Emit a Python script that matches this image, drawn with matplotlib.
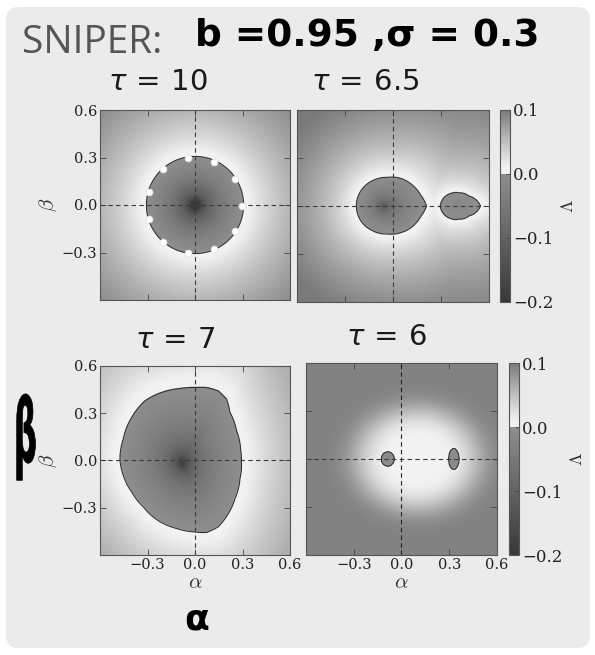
import numpy as np
import matplotlib
matplotlib.use("Agg")
import matplotlib.pyplot as plt
from matplotlib.colors import ListedColormap
from matplotlib.patches import FancyBboxPatch, PathPatch
from matplotlib.textpath import TextPath
from matplotlib.font_manager import FontProperties
from matplotlib.transforms import Affine2D

# ---------------- data ----------------
panel_taus = ["10", "6.5", "7", "6"]
lambda_ticks = [-0.2, -0.1, 0.0, 0.1]
axis_ticks = [-0.3, 0.0, 0.3, 0.6]
lam_min, lam_max = -0.2, 0.1

# tau = 10 : circular basin + sampled points on its edge
p1_center = (0.0, 0.0)
p1_axes = (0.307, 0.307)
dots_alpha = [0.296, 0.252, 0.123, -0.044, -0.199, -0.29, -0.29, -0.199, -0.044, 0.123, 0.252]
dots_beta = [-0.004, 0.163, 0.273, 0.296, 0.226, 0.085, -0.087, -0.233, -0.300, -0.275, -0.163]

# tau = 6.5 : teardrop basin + small lens basin
p2_big_alpha = [-0.229, -0.19, -0.129, -0.035, 0.048, 0.121, 0.173, 0.21, 0.173, 0.121, 0.048, -0.035, -0.129, -0.19]
p2_big_beta = [0.0, 0.11, 0.158, 0.179, 0.173, 0.131, 0.069, 0.0, -0.067, -0.129, -0.167, -0.175, -0.154, -0.108]
p2_big_center = (-0.06, 0.0)
p2_small_alpha = [0.294, 0.319, 0.36, 0.413, 0.475, 0.548, 0.475, 0.413, 0.36, 0.319]
p2_small_beta = [0.0, 0.054, 0.079, 0.083, 0.0625, 0.0, -0.0625, -0.083, -0.079, -0.054]
p2_small_center = (0.41, 0.0)

# tau = 7 : large distorted basin
p3_alpha = [-0.474, -0.453, -0.4, -0.316, -0.211, -0.095, 0.0, 0.074, 0.147, 0.2, 0.221, 0.263,
            0.288, 0.293, 0.284, 0.253, 0.211, 0.147, 0.074, -0.011, -0.116, -0.221, -0.326, -0.4, -0.453]
p3_beta = [0.0, 0.137, 0.274, 0.379, 0.432, 0.457, 0.463, 0.463, 0.442, 0.389, 0.305, 0.189,
           0.074, 0.0, -0.116, -0.242, -0.337, -0.421, -0.457, -0.453, -0.432, -0.389, -0.295, -0.2, -0.095]
p3_center = (-0.08, -0.02)

# tau = 6 : two tiny basins inside a bright halo
p4_blob_centers = [(-0.086, 0.0), (0.329, 0.0)]
p4_blob_axes = [(0.042, 0.046), (0.034, 0.067)]
p4_halo_center = (0.1, 0.0)
p4_halo_axes = (0.39, 0.32)
p4_far_value = 0.09

# ---------------- helpers ----------------
n = 360
grid = np.linspace(-0.6, 0.6, n)
A, B = np.meshgrid(grid, grid)


def q_ellipse(center, axes):
    return np.sqrt(((A - center[0]) / axes[0]) ** 2 + ((B - center[1]) / axes[1]) ** 2)


def q_polygon(pa, pb, center):
    pa = np.asarray(pa); pb = np.asarray(pb)
    th = np.arctan2(pb - center[1], pa - center[0])
    rr = np.hypot(pa - center[0], pb - center[1])
    o = np.argsort(th)
    T = np.arctan2(B - center[1], A - center[0])
    R = np.interp(T, th[o], rr[o], period=2 * np.pi)
    return np.hypot(A - center[0], B - center[1]) / R


def basin(q, k_in, k_out, eps):
    inner = k_in * 0.5 * np.log((q ** 2 + eps ** 2) / (1 + eps ** 2))
    outer = k_out * np.log(np.maximum(q, 1e-9))
    return np.where(q < 1, inner, outer)


fields = []
fields.append(np.minimum(basin(q_ellipse(p1_center, p1_axes), 0.08, 0.085, 0.02), 0.12))
f2 = np.minimum(basin(q_polygon(p2_big_alpha, p2_big_beta, p2_big_center), 0.05, 0.07, 0.1),
                basin(q_polygon(p2_small_alpha, p2_small_beta, p2_small_center), 0.012, 0.045, 0.3))
fields.append(np.minimum(f2, 0.12))
fields.append(np.minimum(basin(q_polygon(p3_alpha, p3_beta, p3_center), 0.06, 0.085, 0.05), 0.12))
halo = p4_far_value * (1 - np.exp(-q_ellipse(p4_halo_center, p4_halo_axes) ** 4))
f4 = np.minimum(basin(q_ellipse(p4_blob_centers[0], p4_blob_axes[0]), 0.012, 0.06, 0.3),
                basin(q_ellipse(p4_blob_centers[1], p4_blob_axes[1]), 0.012, 0.06, 0.3))
f4 = np.where(f4 < 0, f4, np.minimum(f4, halo) + 0.004)
fields.append(f4)

# colormap with jump at zero
nneg, npos = 512, 256
neg = np.linspace(0x38, 0x8e, nneg) / 255.0
t = np.linspace(0, 1, npos)
pos = (0xf2 - (0xf2 - 0x7a) * np.clip((t - 0.08) / 0.92, 0, 1) ** 1.1) / 255.0
vals = np.concatenate([neg, pos])
cmap = ListedColormap(np.stack([vals, vals, vals, np.ones_like(vals)], axis=1))

# ---------------- figure ----------------
fig = plt.figure(figsize=(5.95, 6.55), dpi=100)
fig.patch.set_facecolor("white")
W, H = 595, 655
bg = FancyBboxPatch((6 / W, 1 - 648 / H), 584 / W, 641 / H,
                    boxstyle="round,pad=0,rounding_size=0.02", transform=fig.transFigure,
                    facecolor="#ebebeb", edgecolor="none", zorder=-10)
fig.patches.append(bg)


def fr(x0, y0, x1, y1):
    return [x0 / W, 1 - y1 / H, (x1 - x0) / W, (y1 - y0) / H]


ax_boxes = [fr(100, 110, 290, 300), fr(297, 110, 489, 302), fr(100, 366, 290, 555), fr(306, 363, 497, 555)]
cb_boxes = {1: fr(500, 110, 510, 302), 3: fr(509, 363, 519, 555)}
title_pos = [(158, 82), (365, 82), (175, 340), (387, 337)]

serif = "DejaVu Serif"
fmt = plt.FuncFormatter(lambda v, p: f"{v:.1f}".replace("-", "\u2212"))
for i, box in enumerate(ax_boxes):
    ax = fig.add_axes(box, zorder=1)
    im = ax.imshow(fields[i], extent=[-0.6, 0.6, -0.6, 0.6], origin="lower", cmap=cmap,
                   vmin=lam_min, vmax=lam_max, interpolation="bilinear", aspect="auto")
    ax.contour(A, B, fields[i], levels=[0.0], colors="#2e2e2e", linewidths=0.75)
    ax.axhline(0, color="#3a3a3a", ls=(0, (4, 3)), lw=0.8)
    ax.axvline(0, color="#222222" if i == 3 else "#3a3a3a", ls=(0, (4, 3)), lw=0.8)
    if i == 0:
        ax.plot(dots_alpha, dots_beta, "o", ms=5, mfc="white", mec="#dddddd", mew=0.5)
    ax.set_xlim(-0.6, 0.6); ax.set_ylim(-0.6, 0.6)
    ax.set_xticks(axis_ticks); ax.set_yticks(axis_ticks)
    ax.xaxis.set_major_formatter(fmt)
    ax.yaxis.set_major_formatter(fmt)
    ax.tick_params(direction="in", top=True, right=True, length=4, width=0.6, color="#444444",
                   labelsize=10.5, labelcolor="#222222", pad=2, labelfontfamily=serif)
    if i in (0, 1):
        ax.tick_params(labelbottom=False)
    if i in (1, 3):
        ax.tick_params(labelleft=False)
    if i in (0, 2):
        ax.set_ylabel(r"$\beta$", fontsize=15, math_fontfamily="cm", color="#333333", labelpad=2)
    if i in (2, 3):
        ax.set_xlabel(r"$\alpha$", fontsize=15, math_fontfamily="cm", color="#333333", labelpad=0)
    for s in ax.spines.values():
        s.set_color("#555555"); s.set_linewidth(0.8)
    tx, ty = title_pos[i]
    fig.text(tx / W, 1 - ty / H, r"$\tau\,=\,%s$" % panel_taus[i], fontsize=21,
             math_fontfamily="dejavusans", ha="center", va="center", color="#1a1a1a")
    if i in cb_boxes:
        cax = fig.add_axes(cb_boxes[i], zorder=1)
        cb = fig.colorbar(im, cax=cax, ticks=lambda_ticks)
        cb.outline.set_edgecolor("#555555"); cb.outline.set_linewidth(0.8)
        cax.tick_params(labelsize=12, length=3, width=0.6, direction="in", color="#444444",
                        labelcolor="#222222", pad=2)
        cax.set_yticklabels([f"{v:.1f}".replace("-", "\u2212") for v in lambda_ticks], family=serif)
        cb.set_label(r"$\Lambda$", rotation=90, fontsize=13, math_fontfamily="cm",
                     color="#333333", labelpad=4)

# header and handwritten notes
fig.text(22 / W, 1 - 53 / H, "SNIPER:", fontsize=28, family="Open Sans", color="#555555",
         ha="left", va="baseline")
fig.text(195 / W, 1 - 46 / H, "b =0.95 ,σ = 0.3", fontsize=27, family="DejaVu Sans",
         fontweight="heavy", color="black", ha="left", va="baseline")

# tall, narrow hand-drawn beta next to the lower-left panel
beta_path = TextPath((0, 0), "β", size=1, prop=FontProperties(family="DejaVu Sans", weight="bold"))
gh = 88.0 / H
gw = 32.0 / W
tr = Affine2D().scale(gw, gh).translate(14 / W, 1 - 462 / H) + fig.transFigure
fig.patches.append(PathPatch(beta_path, transform=tr, facecolor="black", edgecolor="black", lw=0.5))

fig.text(197 / W, 1 - 620 / H, "α", fontsize=26, family="DejaVu Sans", fontweight="heavy",
         color="black", ha="center", va="center")

fig.savefig("out.png", dpi=100, facecolor="white")
